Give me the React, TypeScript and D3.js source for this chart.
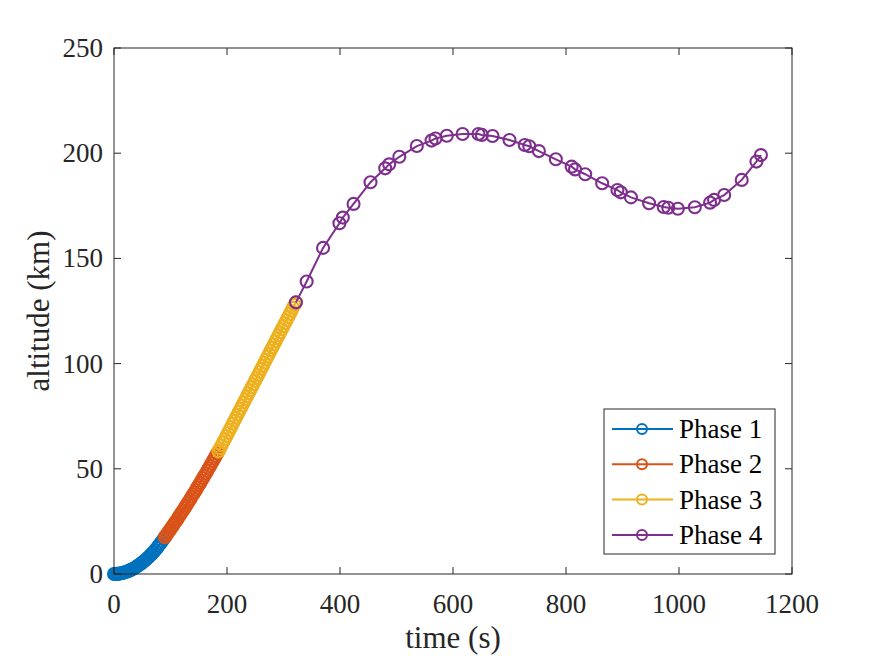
import React from "react";
import * as d3 from "d3";

// phase 1: lift-off, near-quadratic climb
const phase1Time = [0, 2, 4, 6, 8, 10, 13, 16, 19, 22, 25, 28, 31, 34, 37, 40, 43, 46, 49, 52, 55, 58, 61, 64, 67, 70, 73, 76, 79, 82, 85, 88, 90];
const phase1Alt = [0, 0, 0.04, 0.08, 0.14, 0.22, 0.37, 0.55, 0.78, 1.05, 1.35, 1.7, 2.1, 2.5, 3.0, 3.5, 4.0, 4.6, 5.2, 5.8, 6.5, 7.2, 8.0, 8.8, 9.6, 10.5, 11.4, 12.4, 13.4, 14.5, 15.6, 16.7, 17.5];

const phase2Time = [90, 92.5, 95, 97.5, 100, 102.5, 105, 107.5, 110, 112.5, 115, 117.5, 120, 122.5, 125, 127.5, 130, 132.5, 135, 137.5, 140, 142.5, 145, 147.5, 150, 152.5, 155, 157.5, 160, 162.5, 165, 167.5, 170, 172.5, 175, 177.5, 180, 182.5, 185];
const phase2Alt = [17.5, 18.4, 19.4, 20.4, 21.3, 22.3, 23.3, 24.3, 25.2, 26.2, 27.3, 28.3, 29.3, 30.3, 31.4, 32.4, 33.5, 34.5, 35.6, 36.7, 37.8, 38.8, 39.9, 41.1, 42.2, 43.3, 44.4, 45.6, 46.7, 47.8, 49.0, 50.2, 51.3, 52.5, 53.7, 54.9, 56.1, 57.3, 58.3];

const phase3Time = [185, 187.8, 190.6, 193.4, 196.2, 199, 201.8, 204.6, 207.4, 210.2, 213, 215.8, 218.6, 221.4, 224.2, 227, 229.8, 232.6, 235.4, 238.2, 241, 243.8, 246.6, 249.4, 252.2, 255, 257.8, 260.6, 263.4, 266.2, 269, 271.8, 274.6, 277.4, 280.2, 283, 285.8, 288.6, 291.4, 294.2, 297, 299.8, 302.6, 305.4, 308.2, 311, 313.8, 316.6, 319.4, 322];
const phase3Alt = [58.3, 59.8, 61.2, 62.7, 64.1, 65.6, 67.0, 68.5, 69.9, 71.4, 72.8, 74.3, 75.7, 77.2, 78.6, 80.1, 81.5, 83.0, 84.4, 85.9, 87.3, 88.8, 90.2, 91.7, 93.1, 94.6, 96.0, 97.5, 98.9, 100.4, 101.8, 103.3, 104.7, 106.2, 107.6, 109.1, 110.5, 112.0, 113.4, 114.9, 116.3, 117.8, 119.2, 120.7, 122.1, 123.6, 125.0, 126.5, 127.9, 129.1];

const phase4Time = [322, 341, 370, 399, 405, 424, 454, 480, 487, 505, 536, 562, 569, 589, 617, 645, 651, 670, 700, 727, 735, 752, 782, 810, 816, 834, 864, 891, 897, 915, 947, 973, 981, 998, 1028, 1055, 1062, 1080, 1111, 1137, 1145];
const phase4Alt = [129.1, 139, 155, 166.7, 169.4, 175.9, 186.2, 192.8, 194.7, 198.3, 203.4, 206, 207, 208.3, 209.1, 209.1, 208.7, 208.2, 206.3, 203.9, 203.3, 201, 197.1, 193.6, 192.3, 190, 185.7, 182.5, 181.4, 179, 176.2, 174.4, 174.1, 173.6, 174.3, 176.5, 177.8, 180.1, 187.3, 196, 199.1];

const phaseNames = ["Phase 1", "Phase 2", "Phase 3", "Phase 4"];
const phaseColors = ["#0072BD", "#D95319", "#EDB120", "#7E2F8E"];

const xTicks = [0, 200, 400, 600, 800, 1000, 1200];
const yTicks = [0, 50, 100, 150, 200, 250];

const W = 875;
const H = 656;
const left = 114;
const right = 792;
const top = 48;
const bottom = 574;
const axisColor = "#262626";
const font = "'Liberation Serif', 'Times New Roman', serif";

export default function App() {
  const x = d3.scaleLinear().domain([0, 1200]).range([left, right]);
  const y = d3.scaleLinear().domain([0, 250]).range([bottom, top]);

  const phases = [
    { t: phase1Time, a: phase1Alt },
    { t: phase2Time, a: phase2Alt },
    { t: phase3Time, a: phase3Alt },
    { t: phase4Time, a: phase4Alt },
  ].map((p, i) => ({
    pts: p.t.map((t, j) => [t, p.a[j]] as [number, number]),
    color: phaseColors[i],
    name: phaseNames[i],
  }));

  const line = d3
    .line<[number, number]>()
    .x((d) => x(d[0]))
    .y((d) => y(d[1]));

  const tickLen = 7;
  const legX = 604;
  const legY = 409;
  const legW = 171;
  const legH = 145;
  const rowH = 35.3;

  return (
    <div style={{ position: "absolute", left: 0, top: 0 }}>
      <svg width={W} height={H} style={{ display: "block", background: "#fff" }}>
        <rect x={0} y={0} width={W} height={H} fill="#fff" />

        {/* data */}
        {phases.map((p, i) => (
          <g key={i}>
            <path d={line(p.pts) || ""} fill="none" stroke={p.color} strokeWidth={2} />
            {p.pts.map((d, j) => (
              <circle key={j} cx={x(d[0])} cy={y(d[1])} r={6} fill="none" stroke={p.color} strokeWidth={2.1} />
            ))}
          </g>
        ))}

        {/* box */}
        <rect x={left} y={top} width={right - left} height={bottom - top} fill="none" stroke={axisColor} strokeWidth={1} />

        {/* x ticks */}
        {xTicks.map((t) => (
          <g key={"x" + t}>
            <line x1={x(t)} x2={x(t)} y1={bottom} y2={bottom - tickLen} stroke={axisColor} />
            <line x1={x(t)} x2={x(t)} y1={top} y2={top + tickLen} stroke={axisColor} />
            <text x={x(t)} y={bottom + 39} textAnchor="middle" fontFamily={font} fontSize={27} fill={axisColor}>
              {t}
            </text>
          </g>
        ))}

        {/* y ticks */}
        {yTicks.map((t) => (
          <g key={"y" + t}>
            <line x1={left} x2={left + tickLen} y1={y(t)} y2={y(t)} stroke={axisColor} />
            <line x1={right} x2={right - tickLen} y1={y(t)} y2={y(t)} stroke={axisColor} />
            <text x={left - 11} y={y(t) + 9} textAnchor="end" fontFamily={font} fontSize={27} fill={axisColor}>
              {t}
            </text>
          </g>
        ))}

        {/* axis labels */}
        <text x={(left + right) / 2} y={648} textAnchor="middle" fontFamily={font} fontSize={31} fill={axisColor}>
          time (s)
        </text>
        <text
          transform={`translate(49,${(top + bottom) / 2}) rotate(-90)`}
          textAnchor="middle"
          fontFamily={font}
          fontSize={31}
          fill={axisColor}
        >
          altitude (km)
        </text>

        {/* legend */}
        <rect x={legX} y={legY} width={legW} height={legH} fill="#fff" stroke={axisColor} strokeWidth={1} />
        {phases.map((p, i) => {
          const cy = legY + 20 + i * rowH;
          return (
            <g key={"leg" + i}>
              <line x1={legX + 8} x2={legX + 69} y1={cy} y2={cy} stroke={p.color} strokeWidth={2} />
              <circle cx={legX + 38} cy={cy} r={5} fill="none" stroke={p.color} strokeWidth={2} />
              <text x={legX + 75} y={cy + 9} fontFamily={font} fontSize={27} fill="#000">
                {p.name}
              </text>
            </g>
          );
        })}
      </svg>
    </div>
  );
}
